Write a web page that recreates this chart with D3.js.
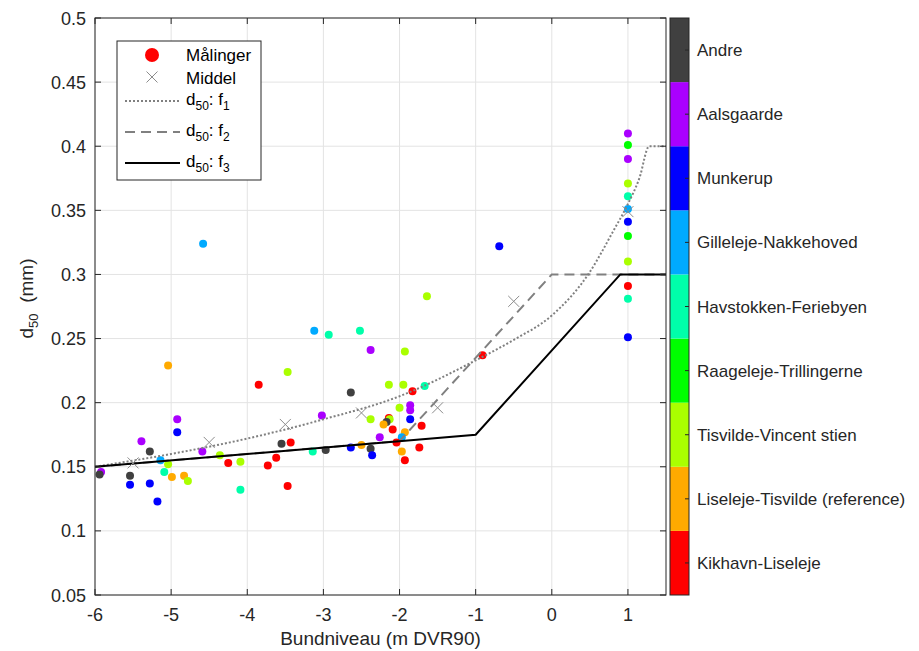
<!DOCTYPE html>
<html lang="en">
  <head>
    <meta charset="UTF-8" />
    <title>d50 mod bundniveau</title>
    <style>
      body { margin: 0; background: #fff; }
      svg { font-family: 'Liberation Sans', Arial, sans-serif; }
      .grid line { stroke: #e3e3e3; stroke-width: 1; }
      .tick-label { font-size: 18px; fill: #262626; }
      .cb-label { font-size: 17px; fill: #262626; }
    </style>
  </head>
  <body>
    <div id="chart"></div>

    <script src="https://d3js.org/d3.v7.min.js"></script>
    <script>
      const stations = [
        'Kikhavn-Liseleje',
        'Liseleje-Tisvilde (reference)',
        'Tisvilde-Vincent stien',
        'Raageleje-Trillingerne',
        'Havstokken-Feriebyen',
        'Gilleleje-Nakkehoved',
        'Munkerup',
        'Aalsgaarde',
        'Andre',
      ];
      const stationColors = [
        '#ff0000', '#ffaa00', '#aaff00', '#00ff00', '#00ffaa',
        '#00aaff', '#0000ff', '#aa00ff', '#404040',
      ];

      // [bundniveau, d50, station index]
      const measurements = [
        [-5.04, 0.229, 1], [-3.85, 0.214, 0], [-4.92, 0.187, 7], [-4.92, 0.177, 6],
        [-5.39, 0.170, 7], [-5.28, 0.162, 8], [-4.59, 0.162, 7], [-3.55, 0.168, 8],
        [-4.36, 0.159, 2], [-4.25, 0.153, 0], [-4.09, 0.154, 2], [-3.73, 0.151, 0],
        [-3.62, 0.157, 0], [-5.14, 0.155, 5], [-5.04, 0.152, 2], [-5.92, 0.146, 7],
        [-5.94, 0.144, 8], [-5.54, 0.143, 8], [-5.09, 0.146, 4], [-4.99, 0.142, 1],
        [-4.83, 0.143, 1], [-4.78, 0.139, 2], [-5.54, 0.136, 6], [-5.28, 0.137, 6],
        [-5.18, 0.123, 6], [-4.09, 0.132, 4], [-4.58, 0.324, 5], [-3.12, 0.256, 5],
        [-2.93, 0.253, 4], [-2.52, 0.256, 4], [-2.38, 0.241, 7], [-1.93, 0.240, 2],
        [-1.64, 0.283, 2], [-3.47, 0.224, 2], [-2.14, 0.214, 2], [-1.95, 0.214, 2],
        [-1.67, 0.213, 4], [-2.64, 0.208, 8], [-1.83, 0.209, 0], [-2.00, 0.196, 2],
        [-1.86, 0.198, 7], [-1.86, 0.194, 7], [-3.02, 0.190, 7], [-2.38, 0.187, 2],
        [-2.14, 0.188, 0], [-2.13, 0.187, 2], [-2.17, 0.185, 8], [-2.21, 0.183, 1],
        [-1.86, 0.187, 6], [-2.09, 0.179, 0], [-1.71, 0.182, 0], [-1.93, 0.177, 1],
        [-2.26, 0.173, 7], [-1.97, 0.173, 5], [-2.04, 0.169, 0], [-3.43, 0.169, 0],
        [-2.64, 0.165, 6], [-2.50, 0.167, 1], [-2.38, 0.164, 8], [-1.74, 0.165, 0],
        [-3.14, 0.162, 4], [-2.97, 0.163, 8], [-2.36, 0.159, 6], [-1.97, 0.162, 1],
        [-1.93, 0.155, 0], [-3.47, 0.135, 0], [-0.91, 0.237, 0], [-0.69, 0.322, 6],
        [1, 0.410, 7], [1, 0.401, 3], [1, 0.390, 7], [1, 0.371, 2], [1, 0.361, 4],
        [1, 0.351, 5], [1, 0.341, 6], [1, 0.330, 3], [1, 0.310, 2], [1, 0.291, 0],
        [1, 0.281, 4], [1, 0.251, 6],
      ];

      const middel = [
        [-5.5, 0.153], [-4.5, 0.169], [-3.5, 0.183], [-2.5, 0.192],
        [-1.5, 0.196], [-0.5, 0.279], [1, 0.349],
      ];

      // curves
      const f1 = [
        [-6, 0.15], [-5, 0.16], [-4, 0.172], [-3, 0.187], [-2, 0.205],
        [-1, 0.233], [-0.5, 0.249], [0, 0.268], [0.5, 0.302], [0.8, 0.333],
        [1.0, 0.355], [1.15, 0.375], [1.28, 0.4], [1.5, 0.4],
      ];
      const f2 = [[-6, 0.15], [-2, 0.17], [0, 0.3], [1.5, 0.3]];
      const f3 = [[-6, 0.15], [-1, 0.175], [0.9, 0.3], [1.5, 0.3]];

      const xTicks = [-6, -5, -4, -3, -2, -1, 0, 1];
      const yTicks = [0.05, 0.1, 0.15, 0.2, 0.25, 0.3, 0.35, 0.4, 0.45, 0.5];

      const W = 919, H = 651;
      const plot = { left: 95, top: 18, right: 666, bottom: 595 };

      const svg = d3.select('#chart').append('svg')
        .attr('width', W).attr('height', H);

      const x = d3.scaleLinear().domain([-6, 1.5]).range([plot.left, plot.right]);
      const y = d3.scaleLinear().domain([0.05, 0.5]).range([plot.bottom, plot.top]);

      // grid
      const grid = svg.append('g').attr('class', 'grid');
      grid.selectAll('.gx').data(xTicks).enter().append('line')
        .attr('x1', d => x(d)).attr('x2', d => x(d))
        .attr('y1', plot.top).attr('y2', plot.bottom);
      grid.selectAll('.gy').data(yTicks).enter().append('line')
        .attr('x1', plot.left).attr('x2', plot.right)
        .attr('y1', d => y(d)).attr('y2', d => y(d));

      const line = d3.line().x(d => x(d[0])).y(d => y(d[1]));

      // measurements
      svg.append('g').selectAll('circle').data(measurements).enter().append('circle')
        .attr('cx', d => x(d[0])).attr('cy', d => y(d[1])).attr('r', 4)
        .attr('fill', d => stationColors[d[2]]);

      // curves
      svg.append('path').datum(f1)
        .attr('d', line.curve(d3.curveMonotoneX))
        .attr('fill', 'none').attr('stroke', '#808080')
        .attr('stroke-width', 2).attr('stroke-dasharray', '2,2');
      line.curve(d3.curveLinear);
      svg.append('path').datum(f2).attr('d', line)
        .attr('fill', 'none').attr('stroke', '#808080')
        .attr('stroke-width', 2).attr('stroke-dasharray', '10,6');
      svg.append('path').datum(f3).attr('d', line)
        .attr('fill', 'none').attr('stroke', '#000')
        .attr('stroke-width', 2);

      // middel markers
      const cross = (g, cx, cy, s) => {
        g.append('path')
          .attr('d', `M${cx - s},${cy - s}L${cx + s},${cy + s}M${cx - s},${cy + s}L${cx + s},${cy - s}`)
          .attr('stroke', '#8c8c8c').attr('stroke-width', 1).attr('fill', 'none');
      };
      const mg = svg.append('g');
      middel.forEach(d => cross(mg, x(d[0]), y(d[1]), 5.5));

      // axes box + ticks
      svg.append('rect')
        .attr('x', plot.left).attr('y', plot.top)
        .attr('width', plot.right - plot.left).attr('height', plot.bottom - plot.top)
        .attr('fill', 'none').attr('stroke', '#262626').attr('stroke-width', 1);

      const axisG = svg.append('g').attr('stroke', '#262626');
      xTicks.forEach(t => {
        axisG.append('line').attr('x1', x(t)).attr('x2', x(t))
          .attr('y1', plot.bottom).attr('y2', plot.bottom - 6);
        axisG.append('line').attr('x1', x(t)).attr('x2', x(t))
          .attr('y1', plot.top).attr('y2', plot.top + 6);
      });
      yTicks.forEach(t => {
        axisG.append('line').attr('x1', plot.left).attr('x2', plot.left + 6)
          .attr('y1', y(t)).attr('y2', y(t));
        axisG.append('line').attr('x1', plot.right).attr('x2', plot.right - 6)
          .attr('y1', y(t)).attr('y2', y(t));
      });

      svg.append('g').selectAll('text').data(xTicks).enter().append('text')
        .attr('class', 'tick-label')
        .attr('x', d => x(d)).attr('y', plot.bottom + 26)
        .attr('text-anchor', 'middle').text(d => d);
      svg.append('g').selectAll('text').data(yTicks).enter().append('text')
        .attr('class', 'tick-label')
        .attr('x', plot.left - 9).attr('y', d => y(d) + 6.5)
        .attr('text-anchor', 'end').text(d => d3.format('~g')(d));

      // axis labels
      svg.append('text')
        .attr('x', (plot.left + plot.right) / 2).attr('y', 645)
        .attr('text-anchor', 'middle').style('font-size', '19px').attr('fill', '#262626')
        .text('Bundniveau (m DVR90)');

      const yl = svg.append('text')
        .attr('transform', `translate(33, ${(plot.top + plot.bottom) / 2 - 8}) rotate(-90)`)
        .attr('text-anchor', 'middle').style('font-size', '19px').attr('fill', '#262626');
      yl.append('tspan').text('d');
      yl.append('tspan').attr('dy', 5).style('font-size', '13px').text('50');
      yl.append('tspan').attr('dy', -5).text('\u00a0 (mm)');

      // legend
      const lg = svg.append('g');
      lg.append('rect').attr('x', 117).attr('y', 41).attr('width', 144).attr('height', 139)
        .attr('fill', '#fff').attr('stroke', '#262626').attr('stroke-width', 1);
      lg.append('circle').attr('cx', 152).attr('cy', 55).attr('r', 7).attr('fill', '#ff0000');
      cross(lg, 152, 77, 5.5);
      const lx1 = 125, lx2 = 180, tx = 186;
      [[101, '#808080', '2,2'], [132, '#808080', '10,6'], [163, '#000', null]].forEach(r => {
        const l = lg.append('line').attr('x1', lx1).attr('x2', lx2)
          .attr('y1', r[0]).attr('y2', r[0])
          .attr('stroke', r[1]).attr('stroke-width', 2);
        if (r[2]) l.attr('stroke-dasharray', r[2]);
      });
      const legendText = (yy, main) => lg.append('text').attr('x', tx).attr('y', yy)
        .style('font-size', '17px').attr('fill', '#000').text(main);
      legendText(61, 'Målinger');
      legendText(84, 'Middel');
      [[105, '1'], [136, '2'], [167, '3']].forEach(r => {
        const t = lg.append('text').attr('x', tx).attr('y', r[0])
          .style('font-size', '17px').attr('fill', '#000');
        t.append('tspan').text('d');
        t.append('tspan').attr('dy', 5).style('font-size', '12px').text('50');
        t.append('tspan').attr('dy', -5).text(': f');
        t.append('tspan').attr('dy', 5).style('font-size', '12px').text(r[1]);
      });

      // colorbar
      const cb = { x: 670, w: 19 };
      const cy = d3.scaleBand().domain(d3.range(stations.length).reverse())
        .range([plot.top, plot.bottom]);
      const cbg = svg.append('g');
      cbg.selectAll('rect').data(stations).enter().append('rect')
        .attr('x', cb.x).attr('y', (d, i) => cy(i))
        .attr('width', cb.w).attr('height', cy.bandwidth())
        .attr('fill', (d, i) => stationColors[i]);
      cbg.append('rect').attr('x', cb.x).attr('y', plot.top)
        .attr('width', cb.w).attr('height', plot.bottom - plot.top)
        .attr('fill', 'none').attr('stroke', '#262626').attr('stroke-width', 1);
      cbg.selectAll('.cbt').data(stations).enter().append('line')
        .attr('x1', cb.x + cb.w - 4).attr('x2', cb.x + cb.w)
        .attr('y1', (d, i) => cy(i) + cy.bandwidth() / 2)
        .attr('y2', (d, i) => cy(i) + cy.bandwidth() / 2)
        .attr('stroke', '#262626');
      cbg.selectAll('text').data(stations).enter().append('text')
        .attr('class', 'cb-label')
        .attr('x', 697).attr('y', (d, i) => cy(i) + cy.bandwidth() / 2 + 6)
        .text(d => d);
    </script>
  </body>
</html>
